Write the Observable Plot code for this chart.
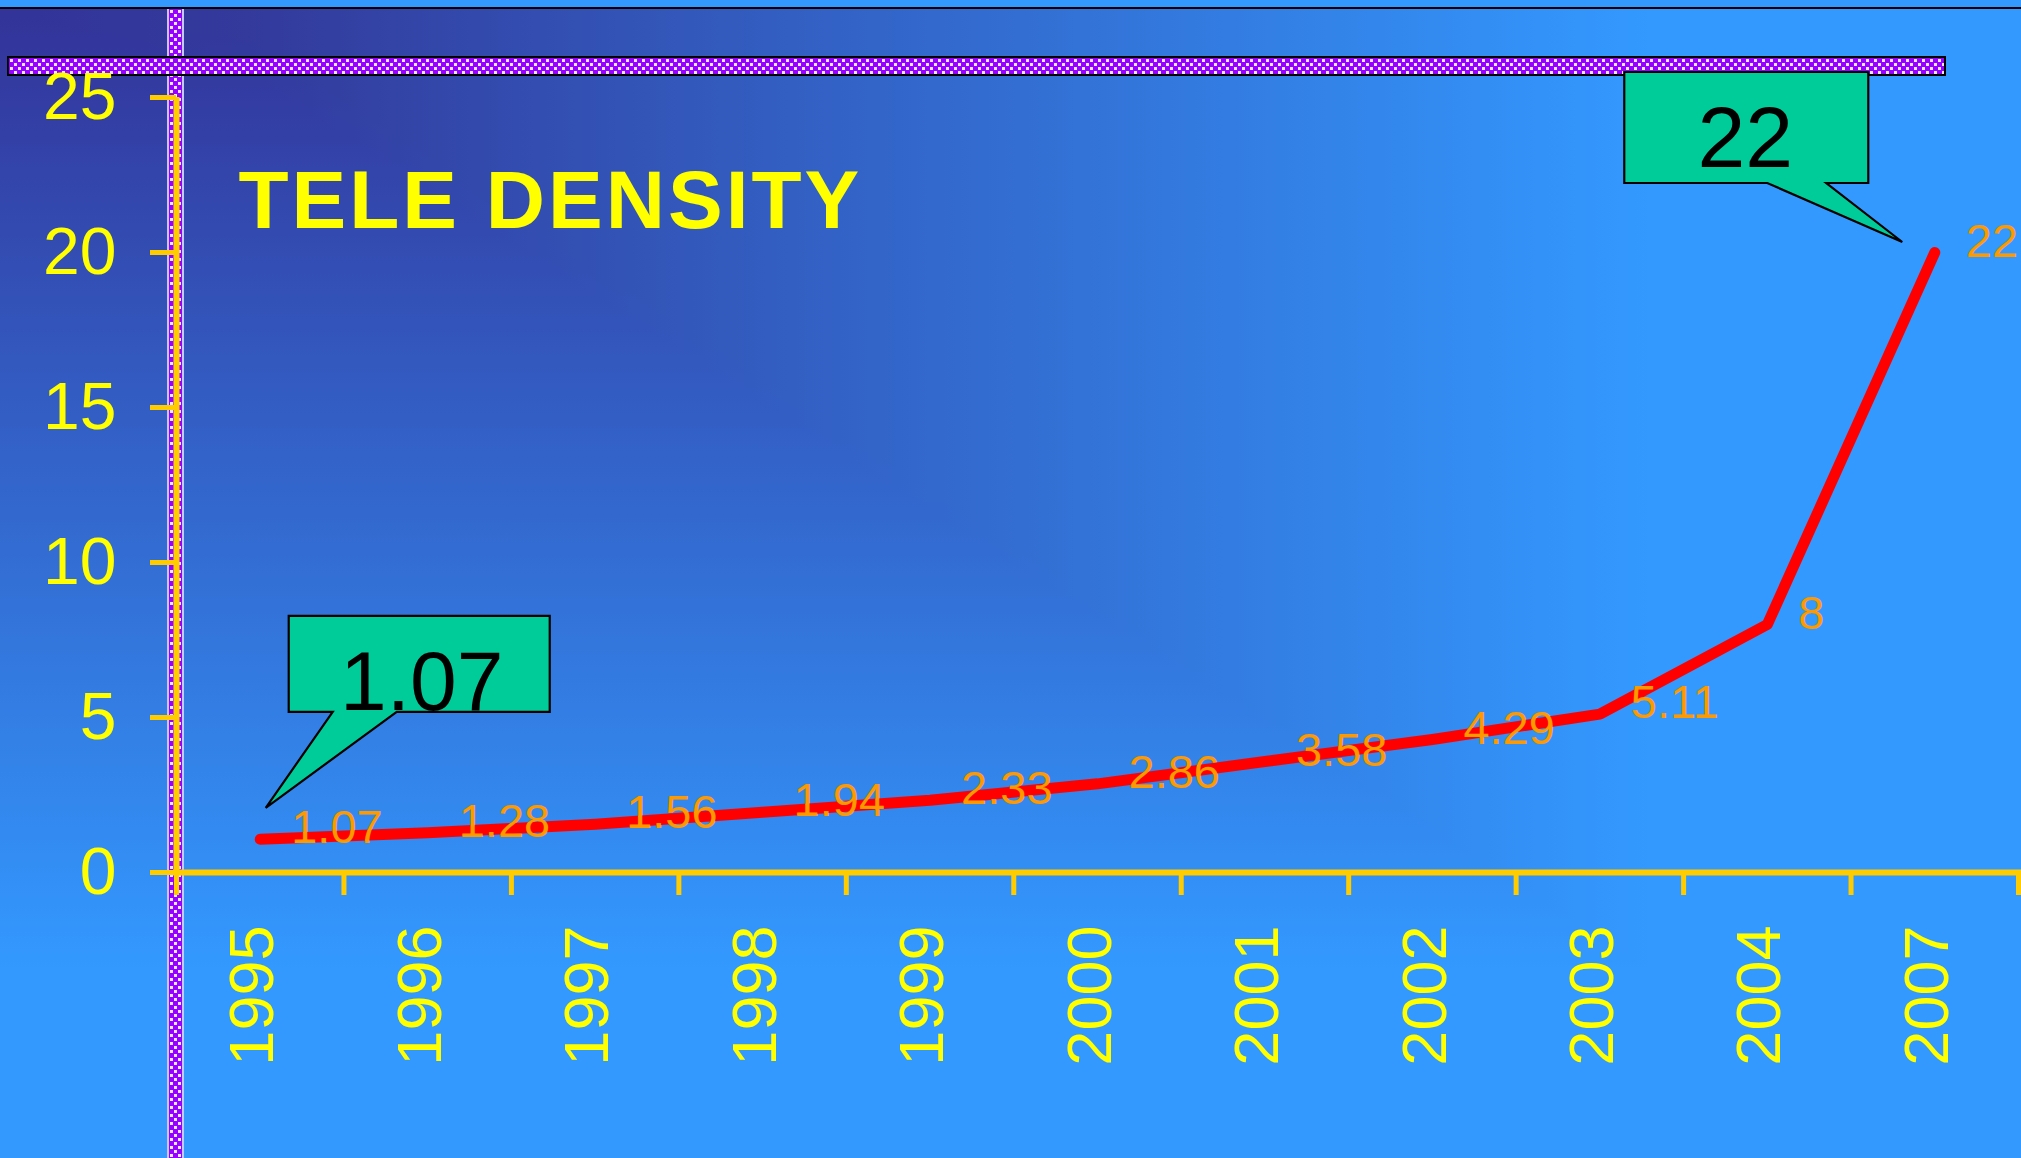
<!DOCTYPE html>
<html>
<head>
<meta charset="utf-8">
<script src="https://cdn.jsdelivr.net/npm/d3@7"></script>
<script src="https://cdn.jsdelivr.net/npm/@observablehq/plot@0.6"></script>
<style>
  html, body { margin: 0; padding: 0; }
  body { width: 2021px; height: 1158px; overflow: hidden; font-family: "Liberation Sans", Arial, sans-serif; }
  #slide { position: relative; width: 2021px; height: 1158px; background: #3399FF; overflow: hidden; }
  #bg { position: absolute; left: 0; top: 9px; width: 2021px; height: 1149px;
        background-image: linear-gradient(to right, #333399 0px, #333A9C 250px, #3399FF 1650px),
                          linear-gradient(to bottom, #333399 0px, #3399FF 960px);
        background-blend-mode: lighten; }
  #topline { position: absolute; left: 0; top: 7px; width: 2021px; height: 2px; background: #000; }
  .pat { background-color: #9900FF;
         background-image: url("data:image/svg+xml,%3Csvg xmlns='http://www.w3.org/2000/svg' width='8' height='8'%3E%3Crect width='8' height='8' fill='%239900FF'/%3E%3Crect x='1' y='1' width='3' height='3' fill='%23E4ECFF'/%3E%3Crect x='5' y='5' width='3' height='3' fill='%23E4ECFF'/%3E%3C/svg%3E"); }
  #vbar { position: absolute; left: 167px; top: 9px; width: 17px; height: 1149px; box-sizing: border-box;
          border-left: 2px solid #C4C8FF; border-right: 2px solid #C4C8FF; }
  #hbar { position: absolute; left: 7px; top: 56px; width: 1939px; height: 20px; box-sizing: border-box; border: 2px solid #000; }
  #chart { position: absolute; left: 0; top: 0; }
</style>
</head>
<body>
<div id="slide">
  <div id="bg"></div>
  <div id="topline"></div>
  <div id="vbar" class="pat"></div>
  <div id="hbar" class="pat"></div>
  <div id="chart"></div>
</div>
<script>
// ---- data ----
const title = "TELE DENSITY";
const years = ["1995", "1996", "1997", "1998", "1999", "2000", "2001", "2002", "2003", "2004", "2007"];
const density = [1.07, 1.28, 1.56, 1.94, 2.33, 2.86, 3.58, 4.29, 5.11, 8, 20];
const densityLabels = ["1.07", "1.28", "1.56", "1.94", "2.33", "2.86", "3.58", "4.29", "5.11", "8", "22"];
const yTicks = [0, 5, 10, 15, 20, 25];
const calloutYears = ["1995", "2007"];

// ---- derived tables ----
const rows = years.map((year, i) => ({i, year, value: density[i], label: densityLabels[i]}));
const xDomain = [-0.5, years.length - 0.5];
const categoryCenters = d3.range(years.length);
const categoryEdges = d3.range(years.length + 1).map(k => k - 0.5);

// callout shapes (pixel offsets relative to the data point)
const calloutStyles = {
  "1995": {box: [29, -223, 290, -127], tail: [73, 137], tip: [6, -31], textX: 162, textY: -129, fontSize: 84},
  "2007": {box: [-310, -180, -66, -69], tail: [-167, -108], tip: [-32, -10], textX: -189, textY: -85, fontSize: 86}
};
const callouts = calloutYears.map(y => rows.find(r => r.year === y));

const gold = "#FFCC00";
const yellow = "#FFFF00";

function calloutMark(index, scales) {
  const g = d3.create("svg:g").attr("aria-label", "callouts");
  for (const c of callouts) {
    const s = calloutStyles[c.year];
    const px = scales.x(c.i), py = scales.y(c.value);
    const [x0, y0, x1, y1] = s.box;
    const path = `M${px + x0},${py + y0}H${px + x1}V${py + y1}H${px + s.tail[1]}L${px + s.tip[0]},${py + s.tip[1]}L${px + s.tail[0]},${py + y1}H${px + x0}Z`;
    g.append("path").attr("d", path).attr("fill", "#00CC99").attr("stroke", "#000").attr("stroke-width", 2.2).attr("stroke-linejoin", "miter");
    g.append("text").attr("x", px + s.textX).attr("y", py + s.textY)
      .attr("text-anchor", "middle").attr("fill", "#000")
      .attr("font-size", s.fontSize).attr("font-family", "Liberation Sans, Arial, sans-serif")
      .text(c.label);
  }
  return g.node();
}

const plot = Plot.plot({
  width: 2021,
  height: 1158,
  marginLeft: 176,
  marginRight: 3,
  marginTop: 97,
  marginBottom: 286,
  style: {background: "transparent", fontFamily: "Liberation Sans, Arial, sans-serif", overflow: "visible"},
  x: {type: "linear", domain: xDomain},
  y: {domain: [0, 25]},
  marks: [
    // title
    Plot.text([title], {frameAnchor: "top-left", dx: 62, dy: 72, fill: yellow, fontSize: 82, fontWeight: "bold", textAnchor: "start", lineAnchor: "top"}),
    // y ticks + labels
    Plot.axisY({ticks: yTicks, tickSize: 26, tickPadding: 34, stroke: gold, strokeWidth: 5, fill: yellow, fontSize: 66, label: null, tickFormat: d => String(d)}),
    // x ticks at category edges
    Plot.axisX({ticks: categoryEdges, tickSize: 23, stroke: gold, strokeWidth: 5, tickFormat: () => "", label: null}),
    // x category labels
    Plot.axisX({ticks: categoryCenters, tickSize: 0, tickPadding: 53, tickRotate: -90, tickFormat: i => years[i], fill: yellow, fontSize: 63, label: null, dx: -7}),
    // axis lines
    Plot.ruleX([xDomain[0]], {y1: 0, y2: 25, stroke: gold, strokeWidth: 6}),
    Plot.ruleY([0], {stroke: gold, strokeWidth: 6, strokeLinecap: "square"}),
    // series
    Plot.line(rows, {x: "i", y: "value", stroke: "#FF0000", strokeWidth: 11, strokeLinecap: "round", strokeLinejoin: "round"}),
    Plot.text(rows, {x: "i", y: "value", text: "label", fill: "#FF9900", fontSize: 47, textAnchor: "start", dx: 31, dy: -11}),
    // callouts
    calloutMark
  ]
});

d3.select(plot).selectAll("text").filter(function () { return this.textContent === title; }).attr("letter-spacing", "3px");
document.getElementById("chart").appendChild(plot);
</script>
</body>
</html>
